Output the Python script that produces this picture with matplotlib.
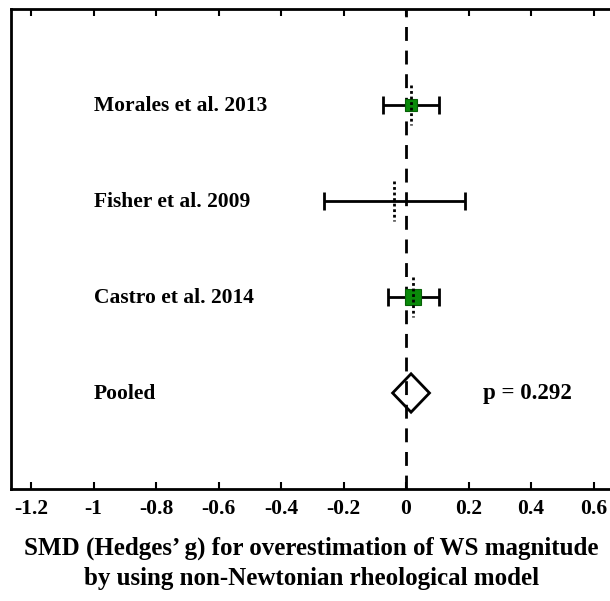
import numpy as np
import matplotlib.pyplot as plt
from matplotlib.patches import Polygon

plt.rcParams['font.family'] = 'Liberation Serif'
plt.rcParams['font.weight'] = 'bold'

studies = ['Morales et al. 2013', 'Fisher et al. 2009', 'Castro et al. 2014']
smd = [0.016, -0.037, 0.022]
ci_low = [-0.075, -0.263, -0.059]
ci_high = [0.107, 0.189, 0.104]
box_size = [8.5, 0, 11.5]     # marker size (pt), reflects study weight

pooled_label = 'Pooled'
pooled_smd = 0.016
pooled_low = -0.043
pooled_high = 0.075
p_text = 'p = 0.292'

xticks = [-1.2, -1, -0.8, -0.6, -0.4, -0.2, 0, 0.2, 0.4, 0.6]
xticklabels = ['-1.2', '-1', '-0.8', '-0.6', '-0.4', '-0.2', '0', '0.2', '0.4', '0.6']

fig = plt.figure(figsize=(6.10, 6.01), dpi=100)
ax = fig.add_axes([11/610, 1-489/601, 601/610, 480/601])

rows = np.arange(1, len(studies) + 1)

# zero line
ax.axvline(0, color='black', ls=(0, (5, 3.5)), lw=2, zorder=1)

for y, m, lo, hi, s, name in zip(rows, smd, ci_low, ci_high, box_size, studies):
    ax.errorbar(m, y, xerr=[[m - lo], [hi - m]], fmt='none', ecolor='black',
                elinewidth=2, capsize=6.5, capthick=2, zorder=2)
    if s > 0:
        ax.plot(m, y, 's', ms=s, color='#0a8a0a', mec='#066006', mew=0.8, zorder=3)
    ax.plot([m, m], [y - 0.21, y + 0.21], color='black', ls=(0, (1, 1)), lw=2, zorder=4)
    ax.text(-1.0, y + 0.01, name, ha='left', va='center', fontsize=15.5, fontweight='bold')

yp = len(studies) + 1
diamond = Polygon([[pooled_low, yp], [pooled_smd, yp - 0.2],
                   [pooled_high, yp], [pooled_smd, yp + 0.2]],
                  closed=True, fill=False, edgecolor='black', lw=2, zorder=3)
ax.add_patch(diamond)
ax.text(-1.0, yp + 0.01, pooled_label, ha='left', va='center', fontsize=15.5, fontweight='bold')
ax.text(0.245, yp + 0.01, p_text, ha='left', va='center', fontsize=16.5, fontweight='bold')

ax.set_xlim(-1.264, 0.659)
ax.set_ylim(5, 0)
ax.set_xticks(xticks)
ax.set_xticklabels(xticklabels, fontsize=15.5, fontweight='bold')
ax.set_yticks([])
ax.tick_params(axis='x', direction='in', length=5, width=1.5, top=True, pad=7)
for sp in ax.spines.values():
    sp.set_linewidth(2)

ax.set_xlabel('SMD (Hedges\u2019 g) for overestimation of WS magnitude\n'
              'by using non-Newtonian rheological model',
              fontsize=18, fontweight='bold', labelpad=13, linespacing=1.4)

fig.savefig('out.png', dpi=100)
